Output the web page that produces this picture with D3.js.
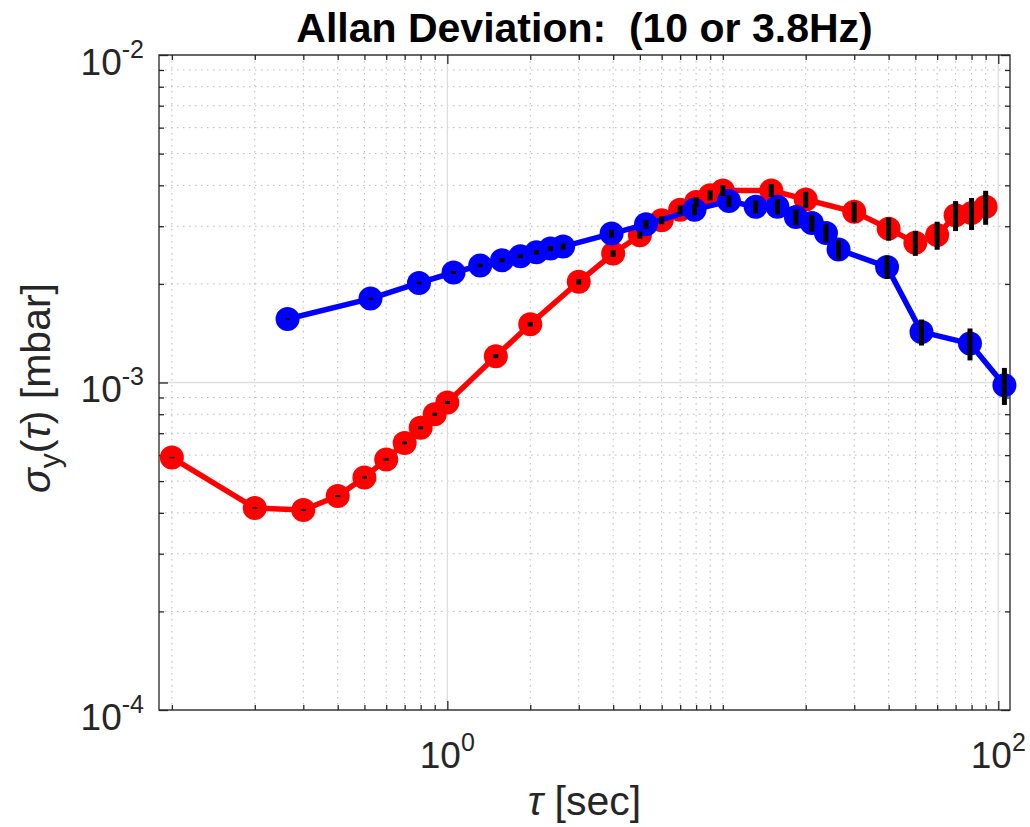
<!DOCTYPE html>
<html>
<head>
<meta charset="utf-8">
<script src="https://cdn.jsdelivr.net/npm/d3@7"></script>
<style>
  body { margin: 0; background: #fff; }
  text { font-family: "Liberation Sans", Arial, Helvetica, sans-serif; }
</style>
</head>
<body>
<svg width="1030" height="827"></svg>
<script>
// 10 Hz series (red)
const redTau = [0.1, 0.2, 0.3, 0.4, 0.5, 0.6, 0.7, 0.8, 0.9, 1.0, 1.5, 2, 3, 4, 5, 6, 7, 8, 9, 10,
  15, 20, 30, 40, 50, 60, 70, 80, 90];
const redSigma = [5.90e-4, 4.14e-4, 4.08e-4, 4.50e-4, 5.13e-4, 5.82e-4, 6.54e-4, 7.27e-4, 8.00e-4, 8.69e-4,
  1.203e-3, 1.507e-3, 2.03e-3, 2.476e-3, 2.816e-3, 3.13e-3, 3.37e-3, 3.56e-3, 3.73e-3, 3.86e-3,
  3.86e-3, 3.62e-3, 3.32e-3, 2.95e-3, 2.67e-3, 2.82e-3, 3.24e-3, 3.29e-3, 3.44e-3];
const redErr = [2.7e-6, 2.2e-6, 2.6e-6, 3.2e-6, 4.0e-6, 4.9e-6, 6.0e-6, 7.1e-6, 8.4e-6, 9.7e-6,
  1.7e-5, 2.4e-5, 3.9e-5, 5.6e-5, 6.9e-5, 8.8e-5, 1.07e-4, 1.19e-4, 1.31e-4, 1.49e-4,
  1.76e-4, 2.03e-4, 2.33e-4, 2.38e-4, 2.34e-4, 2.77e-4, 3.40e-4, 3.69e-4, 4.09e-4];

// 3.8 Hz series (blue)
const blueTau = [0.263, 0.526, 0.789, 1.053, 1.316, 1.579, 1.842, 2.105, 2.368, 2.632,
  3.947, 5.263, 7.895, 10.526, 13.158, 15.789, 18.421, 21.053, 23.684, 26.316,
  39.474, 52.632, 78.947, 105.263];
const blueSigma = [1.563e-3, 1.804e-3, 2.014e-3, 2.167e-3, 2.276e-3, 2.362e-3, 2.43e-3, 2.50e-3, 2.565e-3, 2.601e-3,
  2.85e-3, 3.04e-3, 3.37e-3, 3.58e-3, 3.44e-3, 3.44e-3, 3.20e-3, 3.07e-3, 2.86e-3, 2.547e-3,
  2.254e-3, 1.427e-3, 1.315e-3, 9.81e-4];
const blueErr = [8.2e-6, 1.27e-5, 1.77e-5, 2.28e-5, 2.8e-5, 3.3e-5, 3.4e-5, 3.95e-5, 4.5e-5, 5.5e-5,
  8.0e-5, 9.6e-5, 1.30e-4, 1.51e-4, 1.57e-4, 1.81e-4, 1.80e-4, 1.83e-4, 1.81e-4, 1.70e-4,
  1.82e-4, 1.30e-4, 1.47e-4, 1.27e-4];

// ticks
const xMajor = [1, 100];
const xMajorExp = ['0', '2'];
const xMinor = [0.1, 0.2, 0.3, 0.4, 0.5, 0.6, 0.7, 0.8, 0.9, 2, 3, 4, 5, 6, 7, 8, 9, 10,
  20, 30, 40, 50, 60, 70, 80, 90];
const yMajor = [1e-4, 1e-3, 1e-2];
const yMajorExp = ['-4', '-3', '-2'];
const yMinor = [2e-4, 3e-4, 4e-4, 5e-4, 6e-4, 7e-4, 8e-4, 9e-4,
  2e-3, 3e-3, 4e-3, 5e-3, 6e-3, 7e-3, 8e-3, 9e-3];

const svg = d3.select('svg');
const width = +svg.attr('width');
const height = +svg.attr('height');
const margin = { top: 55, right: 20, bottom: 117, left: 159 };
const innerWidth = width - margin.left - margin.right;
const innerHeight = height - margin.top - margin.bottom;

const xScale = d3.scaleLog().domain([0.0898, 110.3]).range([0, innerWidth]);
const yScale = d3.scaleLog().domain([1e-4, 1e-2]).range([innerHeight, 0]);

const g = svg.append('g').attr('transform', `translate(${margin.left},${margin.top})`);

// grid
const grid = g.append('g');
grid.selectAll('.gx').data(xMinor).enter().append('line')
  .attr('x1', d => xScale(d)).attr('x2', d => xScale(d))
  .attr('y1', 0).attr('y2', innerHeight)
  .attr('stroke', '#b8b8b8').attr('stroke-width', 1).attr('stroke-dasharray', '1.5,4.5');
grid.selectAll('.gy').data(yMinor).enter().append('line')
  .attr('y1', d => yScale(d)).attr('y2', d => yScale(d))
  .attr('x1', 0).attr('x2', innerWidth)
  .attr('stroke', '#b8b8b8').attr('stroke-width', 1).attr('stroke-dasharray', '1.5,4.5');
grid.selectAll('.gX').data(xMajor).enter().append('line')
  .attr('x1', d => xScale(d)).attr('x2', d => xScale(d))
  .attr('y1', 0).attr('y2', innerHeight)
  .attr('stroke', '#dedede').attr('stroke-width', 1.3);
grid.selectAll('.gY').data(yMajor).enter().append('line')
  .attr('y1', d => yScale(d)).attr('y2', d => yScale(d))
  .attr('x1', 0).attr('x2', innerWidth)
  .attr('stroke', '#dedede').attr('stroke-width', 1.3);

// axes (ticks pointing inward on all four sides)
const axisColor = '#262626';
const addAxis = (axis, transform) => {
  const a = g.append('g').attr('transform', transform).call(axis);
  a.select('.domain').remove();
  a.selectAll('.tick line').attr('stroke', axisColor).attr('stroke-width', 1.3);
  a.selectAll('.tick text').remove();
};
addAxis(d3.axisBottom(xScale).tickValues(xMajor).tickSize(-9), `translate(0,${innerHeight})`);
addAxis(d3.axisBottom(xScale).tickValues(xMinor).tickSize(-5), `translate(0,${innerHeight})`);
addAxis(d3.axisTop(xScale).tickValues(xMajor).tickSize(-9), 'translate(0,0)');
addAxis(d3.axisTop(xScale).tickValues(xMinor).tickSize(-5), 'translate(0,0)');
addAxis(d3.axisLeft(yScale).tickValues(yMajor).tickSize(-9), 'translate(0,0)');
addAxis(d3.axisLeft(yScale).tickValues(yMinor).tickSize(-5), 'translate(0,0)');
addAxis(d3.axisRight(yScale).tickValues(yMajor).tickSize(-9), `translate(${innerWidth},0)`);
addAxis(d3.axisRight(yScale).tickValues(yMinor).tickSize(-5), `translate(${innerWidth},0)`);

g.append('rect')
  .attr('width', innerWidth).attr('height', innerHeight)
  .attr('fill', 'none').attr('stroke', axisColor).attr('stroke-width', 1.3);

// tick labels 10^n
xMajor.forEach((v, i) => {
  const t = g.append('text')
    .attr('x', xScale(v)).attr('y', innerHeight + 58)
    .attr('text-anchor', 'middle').attr('fill', axisColor).attr('font-size', 37);
  t.append('tspan').text('10');
  t.append('tspan').attr('dy', -17).attr('font-size', 25).text(xMajorExp[i]);
});
yMajor.forEach((v, i) => {
  const t = g.append('text')
    .attr('x', -15).attr('y', yScale(v) + 19.5)
    .attr('text-anchor', 'end').attr('fill', axisColor).attr('font-size', 37);
  t.append('tspan').text('10');
  t.append('tspan').attr('dy', -17).attr('font-size', 25).text(yMajorExp[i]);
});

// series
const drawSeries = (taus, sig, color) => {
  const pts = taus.map((t, i) => [xScale(t), yScale(sig[i])]);
  g.append('path')
    .attr('d', d3.line()(pts))
    .attr('fill', 'none').attr('stroke', color).attr('stroke-width', 5.5)
    .attr('stroke-linejoin', 'round');
  g.append('g').selectAll('circle').data(pts).enter().append('circle')
    .attr('cx', d => d[0]).attr('cy', d => d[1]).attr('r', 12)
    .attr('fill', color);
};
drawSeries(redTau, redSigma, '#ff0000');
drawSeries(blueTau, blueSigma, '#0000ff');

const drawErr = (taus, sig, err) => {
  g.append('g').selectAll('line').data(taus).enter().append('line')
    .attr('x1', d => xScale(d)).attr('x2', d => xScale(d))
    .attr('y1', (d, i) => yScale(sig[i] - err[i]))
    .attr('y2', (d, i) => yScale(sig[i] + err[i]))
    .attr('stroke', '#000').attr('stroke-width', 5);
};
drawErr(redTau, redSigma, redErr);
drawErr(blueTau, blueSigma, blueErr);

// title and labels
svg.append('text')
  .attr('x', margin.left + innerWidth / 2).attr('y', 42)
  .attr('text-anchor', 'middle').attr('font-size', 41).attr('font-weight', 'bold')
  .attr('fill', '#000').style('white-space', 'pre')
  .text('Allan Deviation:  (10 or 3.8Hz)');

const xl = svg.append('text')
  .attr('x', margin.left + innerWidth / 2).attr('y', 815)
  .attr('text-anchor', 'middle').attr('font-size', 41).attr('fill', axisColor);
xl.append('tspan').attr('font-style', 'italic').text('τ');
xl.append('tspan').text(' [sec]');

const yl = svg.append('text')
  .attr('transform', 'translate(50,388) rotate(-90)')
  .attr('text-anchor', 'middle').attr('font-size', 41).attr('fill', axisColor);
yl.append('tspan').attr('font-style', 'italic').text('σ');
yl.append('tspan').attr('dy', 10).attr('font-size', 30).text('y');
yl.append('tspan').attr('dy', -10).text('(');
yl.append('tspan').attr('font-style', 'italic').text('τ');
yl.append('tspan').text(') [mbar]');
</script>
</body>
</html>
